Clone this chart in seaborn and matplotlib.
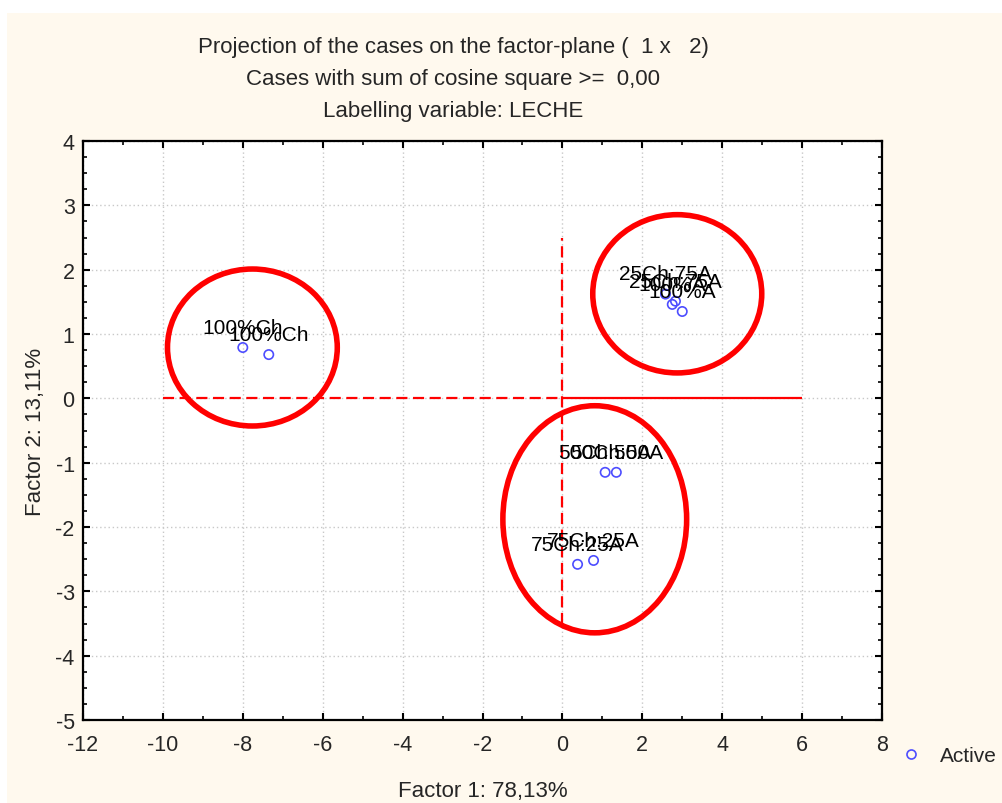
import matplotlib
matplotlib.use("Agg")
import matplotlib.pyplot as plt
from matplotlib.patches import Ellipse, Rectangle
from matplotlib.ticker import MultipleLocator, FixedLocator
import seaborn as sns
import pandas as pd

# ---- data ----
case_labels = ["100%Ch", "100%Ch", "25Ch:75A", "25Ch:75A", "100%A", "100%A",
               "50Ch:50A", "50Ch:50A", "75Ch:25A", "75Ch:25A"]
factor1 = [-8.0, -7.35, 2.58, 2.83, 2.75, 3.0, 1.07, 1.35, 0.38, 0.78]
factor2 = [0.79, 0.68, 1.62, 1.51, 1.46, 1.35, -1.15, -1.15, -2.58, -2.52]

title_lines = ["Projection of the cases on the factor-plane (  1 x   2)",
               "Cases with sum of cosine square >=  0,00",
               "Labelling variable: LECHE"]
x_label = "Factor 1: 78,13%"
y_label = "Factor 2: 13,11%"
legend_label = "Active"

x_ticks = [-12, -10, -8, -6, -4, -2, 0, 2, 4, 6, 8]
y_ticks = [-5, -4, -3, -2, -1, 0, 1, 2, 3, 4]

# red cluster ellipses: centre x, centre y, width, height (data units)
ell_cx = [-7.76, 2.875, 0.81]
ell_cy = [0.79, 1.625, -1.88]
ell_w = [4.25, 4.23, 4.6]
ell_h = [2.44, 2.46, 3.53]

# red reference lines
h_dash = (-10, 0)
h_solid = (0, 6)
v_dash = (-3.5, 2.5)

df = pd.DataFrame({"f1": factor1, "f2": factor2, "case": case_labels,
                   "status": legend_label})

sns.set_theme(style="white")
plt.rcParams["font.family"] = ["Liberation Sans", "DejaVu Sans"]

W, H = 1003, 804
fig = plt.figure(figsize=(W / 100, H / 100), dpi=100)
fig.patch.set_facecolor("#fff9ee")
# white strips on top and left
fig.patches.append(Rectangle((0, 1 - 14 / H), 1, 14 / H, transform=fig.transFigure,
                             facecolor="white", edgecolor="none", zorder=0))
fig.patches.append(Rectangle((0, 0), 7 / W, 1, transform=fig.transFigure,
                             facecolor="white", edgecolor="none", zorder=0))

ax = fig.add_axes([83 / W, 1 - 721 / H, (882 - 83) / W, (721 - 142) / H])
ax.set_facecolor("white")

blue = "#4d4dff"
sns.scatterplot(data=df, x="f1", y="f2", hue="status", palette=[blue], ax=ax,
                marker="o", s=45, linewidth=1.2, legend=False, zorder=4)
# make markers hollow
for coll in ax.collections:
    coll.set_facecolor("none")
    coll.set_edgecolor(blue)

for xv, yv, lab in zip(df["f1"], df["f2"], df["case"]):
    ax.annotate(lab, (xv, yv), xytext=(0, 14.5), textcoords="offset points",
                ha="center", va="center", fontsize=15, color="black", zorder=5)

red = "#ff0000"
ax.hlines(0, *h_dash, colors=red, linestyles=(0, (5, 2.5)), linewidth=1.6, zorder=3)
ax.hlines(0, *h_solid, colors=red, linestyles="solid", linewidth=1.6, zorder=3)
ax.vlines(0, *v_dash, colors=red, linestyles=(0, (5, 2.5)), linewidth=1.6, zorder=3)

for cx, cy, w, h in zip(ell_cx, ell_cy, ell_w, ell_h):
    ax.add_patch(Ellipse((cx, cy), w, h, fill=False, edgecolor=red,
                         linewidth=4, zorder=6))

ax.set_xlim(x_ticks[0], x_ticks[-1])
ax.set_ylim(y_ticks[0], y_ticks[-1])
ax.xaxis.set_major_locator(FixedLocator(x_ticks))
ax.yaxis.set_major_locator(FixedLocator(y_ticks))
ax.xaxis.set_minor_locator(MultipleLocator(1))
ax.yaxis.set_minor_locator(MultipleLocator(0.25))
ax.set_xticklabels([str(t) for t in x_ticks])
ax.set_yticklabels([str(t) for t in y_ticks])

ax.grid(True, which="major", color="#c8c8c8", linestyle=(0, (1, 2)), linewidth=1)
ax.tick_params(which="both", direction="in", top=True, right=True, bottom=True,
               left=True, color="black")
ax.tick_params(which="major", length=5, width=1.5, labelsize=15.5)
ax.tick_params(which="minor", length=3, width=1.2)
ax.tick_params(axis="x", which="major", pad=10)
ax.tick_params(axis="y", which="major", pad=6)
for sp in ax.spines.values():
    sp.set_color("black")
    sp.set_linewidth(1.6)

ax.set_xlabel(x_label, fontsize=16, labelpad=18)
ax.set_ylabel(y_label, fontsize=16, labelpad=7)

title_y = [47, 79, 112]
for txt, yy in zip(title_lines, title_y):
    fig.text(453 / W, 1 - yy / H, txt, ha="center", va="center", fontsize=16)

handle = plt.Line2D([], [], marker="o", linestyle="none", markerfacecolor="none",
                    markeredgecolor=blue, markersize=6.5, markeredgewidth=1.2)
fig.legend([handle], [legend_label], loc="center left",
           bbox_to_anchor=(880 / W, 1 - 757 / H), frameon=False, fontsize=15,
           handletextpad=0.8, handlelength=1.2)

fig.savefig("out.png", dpi=100, facecolor=fig.get_facecolor())
